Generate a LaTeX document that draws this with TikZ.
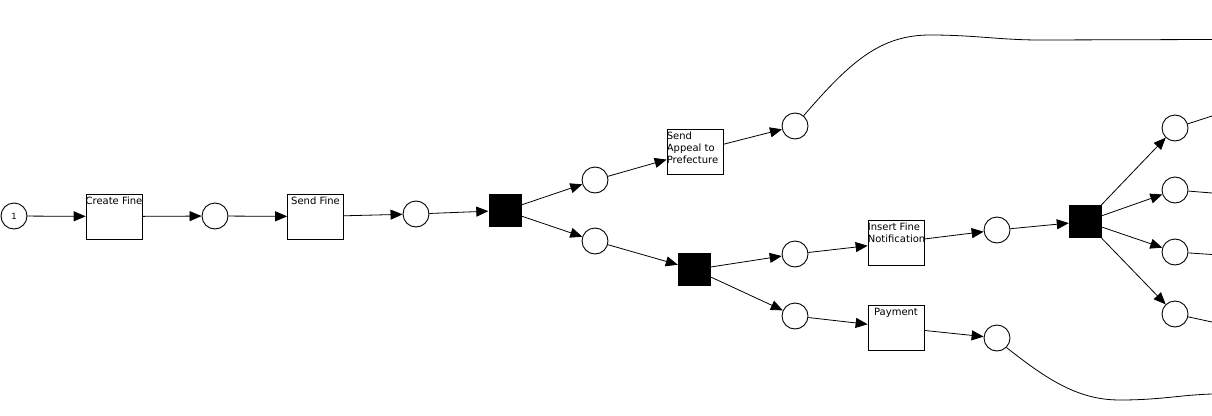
\documentclass[tikz,border=0pt]{standalone}
\usepackage{fontspec}
\setmainfont{DejaVu Sans}
\usetikzlibrary{arrows.meta}

\begin{document}
\begin{tikzpicture}[x=1pt,y=-1pt,
    place/.style={circle,draw,line width=0.9pt,minimum size=26pt,inner sep=0pt},
    lbl/.style={draw=none,minimum width=0pt,minimum height=0pt,inner sep=0pt,
      font=\fontsize{10}{12}\selectfont},
    task/.style={rectangle,draw,line width=0.7pt,minimum width=56pt,minimum height=45pt,inner sep=0pt,
      path picture={\node[lbl,anchor=north]
        at ([yshift=-2.5pt]path picture bounding box.north) {#1};}},
    tasklft/.style={rectangle,draw,line width=0.7pt,minimum width=56pt,minimum height=45pt,inner sep=0pt,
      path picture={\node[lbl,anchor=north west,align=left]
        at ([xshift=-0.5pt,yshift=-2.5pt]path picture bounding box.north west) {#1};}},
    silent/.style={rectangle,fill=black,minimum size=33pt,inner sep=0pt},
    arc/.style={line width=0.8pt,-{Triangle[length=12pt,width=10pt]}},
    flow/.style={line width=0.8pt}]
  \useasboundingbox (0,0) rectangle (1212,415);

  \node[place] (start) at (14,216) {\fontsize{8.5}{9}\selectfont 1};
  \node[task=Create Fine] (create) at (114,216.5) {};
  \node[place] (c1) at (215,216) {};
  \node[task=Send Fine] (send) at (315.5,216.5) {};
  \node[place] (c2) at (416,214) {};
  \node[silent] (and1) at (505,210.5) {};
  \node[place] (c3) at (595,180) {};
  \node[place] (c4) at (595,241) {};
  \node[tasklft={Send\\Appeal to\\Prefecture}] (appeal) at (695,151.5) {};
  \node[place] (c5) at (795,126) {};
  \node[silent] (and2) at (694.5,269.5) {};
  \node[place] (c6) at (795,254) {};
  \node[place] (c7) at (795,316) {};
  \node[tasklft={Insert Fine\\Notification}] (notify) at (896,242.5) {};
  \node[task=Payment] (pay) at (896,327.5) {};
  \node[place] (c8) at (997,230) {};
  \node[place] (c9) at (997,338) {};
  \node[silent] (and3) at (1085.5,221.5) {};
  \node[place] (c10) at (1175,128) {};
  \node[place] (c11) at (1175,190) {};
  \node[place] (c12) at (1175,252) {};
  \node[place] (c13) at (1175,314) {};

  \coordinate (out10) at (1212,116);
  \coordinate (out11) at (1212,193);
  \coordinate (out12) at (1212,254.5);
  \coordinate (out13) at (1212,322);
  \coordinate (top1) at (930,35);
  \coordinate (top2) at (1040,40);
  \coordinate (top3) at (1212,39.5);
  \coordinate (bot1) at (1120,400);
  \coordinate (bot2) at (1212,394);

  \draw[arc] (start) -- (create);
  \draw[arc] (create) -- (c1);
  \draw[arc] (c1) -- (send);
  \draw[arc] (send) -- (c2);
  \draw[arc] (c2) -- (and1);
  \draw[arc] (and1) -- (c3);
  \draw[arc] (and1) -- (c4);
  \draw[arc] (c3) -- (appeal);
  \draw[arc] (appeal) -- (c5);
  \draw[arc] (c4) -- (and2);
  \draw[arc] (and2) -- (c6);
  \draw[arc] (and2) -- (c7);
  \draw[arc] (c6) -- (notify);
  \draw[arc] (c7) -- (pay);
  \draw[arc] (notify) -- (c8);
  \draw[arc] (pay) -- (c9);
  \draw[arc] (c8) -- (and3);
  \draw[arc] (and3) -- (c10);
  \draw[arc] (and3) -- (c11);
  \draw[arc] (and3) -- (c12);
  \draw[arc] (and3) -- (c13);

  \draw[flow] (c10) -- (out10);
  \draw[flow] (c11) -- (out11);
  \draw[flow] (c12) -- (out12);
  \draw[flow] (c13) -- (out13);
  \draw[flow] (c5.50) .. controls (850,62) and (880,35) .. (top1)
    .. controls (975,35) and (1000,40) .. (top2) -- (top3);
  \draw[flow] (c9.-45) .. controls (1050,382) and (1080,400) .. (bot1)
    .. controls (1160,400) and (1180,395) .. (bot2);
\end{tikzpicture}
\end{document}
